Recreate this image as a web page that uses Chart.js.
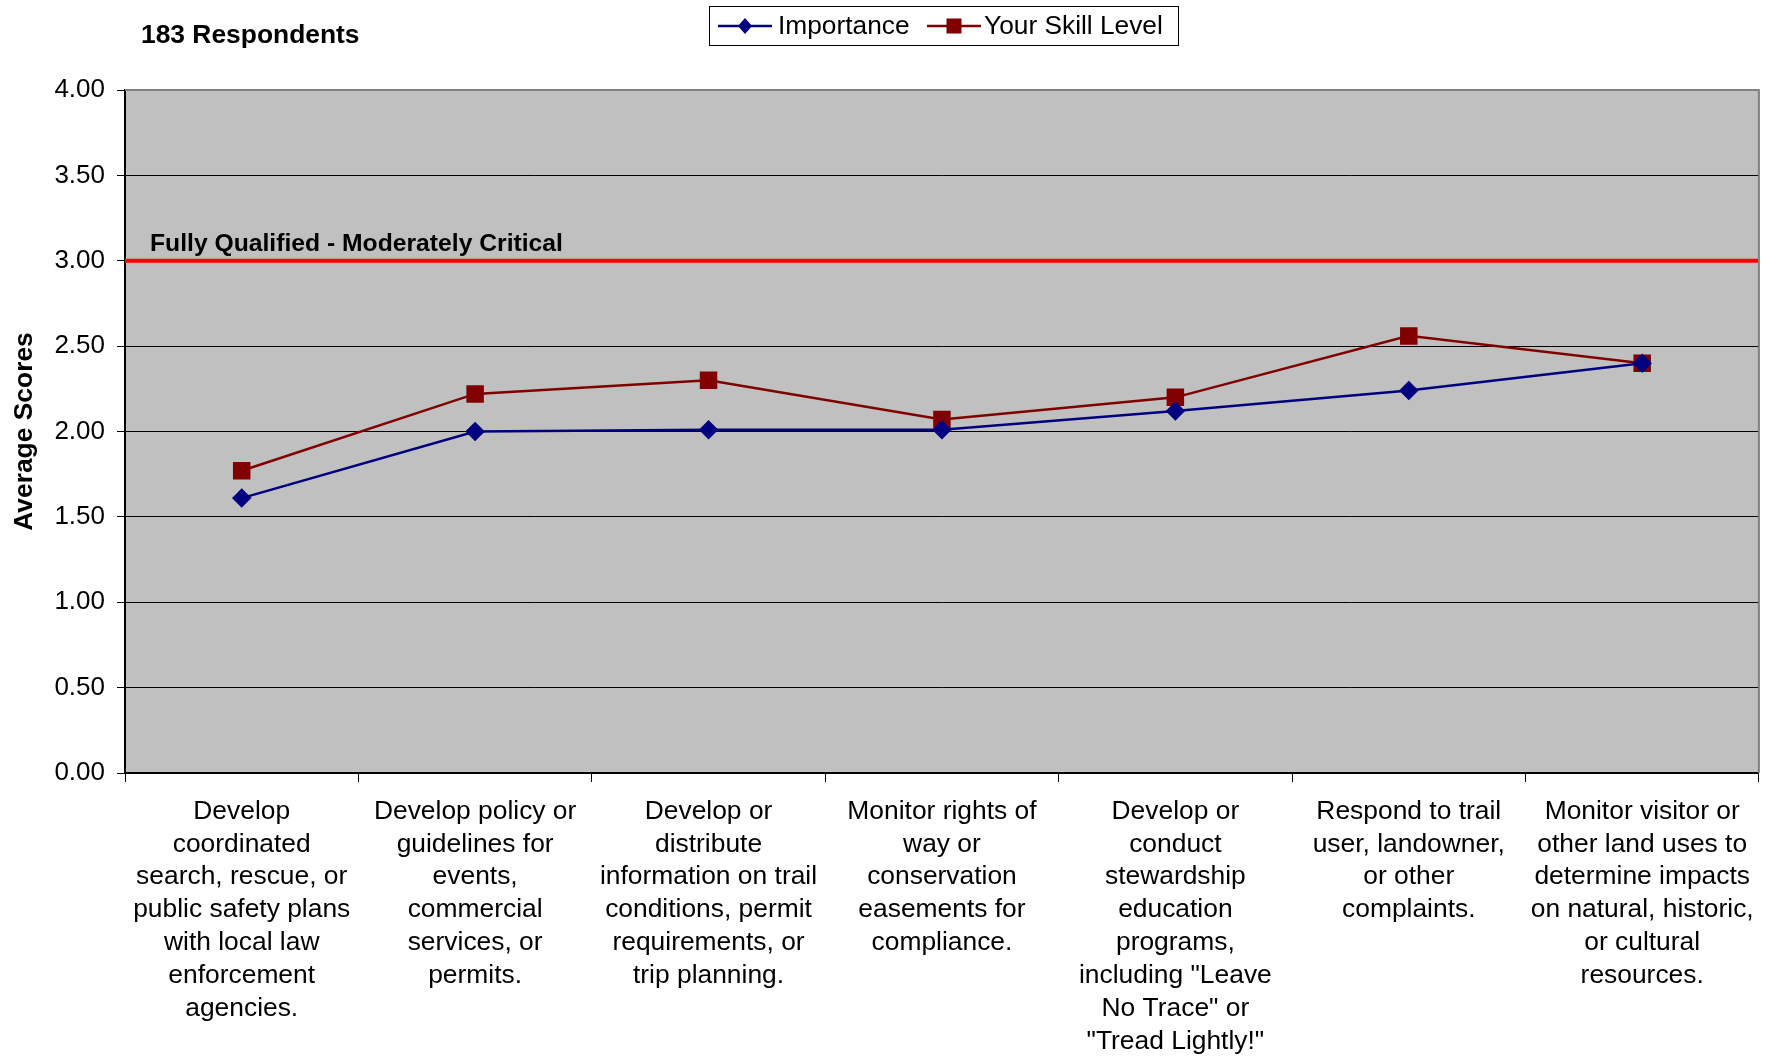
<!DOCTYPE html>
<html>
<head>
<meta charset="utf-8">
<script src="https://cdn.jsdelivr.net/npm/chart.js@4.4.0/dist/chart.umd.min.js"></script>
<style>
    html, body { margin: 0; padding: 0; background: #fff; }
    canvas { display: block; }
</style>
</head>
<body>
<canvas id="scoreChart" width="1772" height="1056"></canvas>
<script>
// Chart data
const categories = [
    ['Develop', 'coordinated', 'search, rescue, or', 'public safety plans', 'with local law', 'enforcement', 'agencies.'],
    ['Develop policy or', 'guidelines for', 'events,', 'commercial', 'services, or', 'permits.'],
    ['Develop or', 'distribute', 'information on trail', 'conditions, permit', 'requirements, or', 'trip planning.'],
    ['Monitor rights of', 'way or', 'conservation', 'easements for', 'compliance.'],
    ['Develop or', 'conduct', 'stewardship', 'education', 'programs,', 'including "Leave', 'No Trace" or', '"Tread Lightly!"'],
    ['Respond to trail', 'user, landowner,', 'or other', 'complaints.'],
    ['Monitor visitor or', 'other land uses to', 'determine impacts', 'on natural, historic,', 'or cultural', 'resources.']
];
const importance = [1.61, 2.00, 2.01, 2.01, 2.12, 2.24, 2.40];
const skillLevel = [1.77, 2.22, 2.30, 2.07, 2.20, 2.56, 2.40];
const seriesNames = ['Importance', 'Your Skill Level'];

const yMin = 0;
const yMax = 4;
const yStep = 0.5;
const thresholdValue = 3.0;
const thresholdLabel = 'Fully Qualified - Moderately Critical';
const respondentsLabel = '183 Respondents';
const yAxisTitle = 'Average Scores';

const FONT = 'Arial, "Liberation Sans", sans-serif';

// Background, threshold line, titles and the boxed legend
const decorations = {
    id: 'decorations',
    beforeDraw(chart) {
        const { ctx, chartArea: a } = chart;
        ctx.save();
        ctx.fillStyle = '#c0c0c0';
        ctx.fillRect(a.left, a.top, a.right - a.left, a.bottom - a.top);
        ctx.restore();
    },
    beforeDatasetsDraw(chart) {
        const { ctx, chartArea: a, scales } = chart;
        const y = scales.y.getPixelForValue(thresholdValue);
        ctx.save();
        ctx.strokeStyle = '#ff0000';
        ctx.lineWidth = 4;
        ctx.beginPath();
        ctx.moveTo(a.left, y);
        ctx.lineTo(a.right, y);
        ctx.stroke();
        ctx.fillStyle = '#000';
        ctx.font = 'bold 24.7px ' + FONT;
        ctx.textBaseline = 'alphabetic';
        ctx.fillText(thresholdLabel, a.left + 25, y - 10);
        ctx.restore();
    },
    afterDraw(chart) {
        const { ctx, chartArea: a } = chart;
        ctx.save();
        // top and right frame
        ctx.strokeStyle = '#808080';
        ctx.lineWidth = 2;
        ctx.beginPath();
        ctx.moveTo(a.left, a.top);
        ctx.lineTo(a.right, a.top);
        ctx.lineTo(a.right, a.bottom);
        ctx.stroke();

        // respondents note
        ctx.fillStyle = '#000';
        ctx.font = 'bold 26.4px ' + FONT;
        ctx.textBaseline = 'middle';
        ctx.fillText(respondentsLabel, 141, 36);

        // y axis title
        ctx.translate(25, (a.top + a.bottom) / 2);
        ctx.rotate(-Math.PI / 2);
        ctx.textAlign = 'center';
        ctx.font = 'bold 26.4px ' + FONT;
        ctx.fillText(yAxisTitle, 0, 0);
        ctx.restore();

        // legend
        ctx.save();
        ctx.strokeStyle = '#000';
        ctx.lineWidth = 1;
        ctx.strokeRect(709.5, 6.5, 469, 39);
        ctx.font = '26.3px ' + FONT;
        ctx.textBaseline = 'middle';
        ctx.fillStyle = '#000';
        const items = [{ x: 718, text: 778 }, { x: 927, text: 984 }];
        chart.data.datasets.forEach((ds, i) => {
            const it = items[i];
            const cy = 26;
            ctx.strokeStyle = ds.borderColor;
            ctx.lineWidth = 2.5;
            ctx.beginPath();
            ctx.moveTo(it.x, cy);
            ctx.lineTo(it.x + 54, cy);
            ctx.stroke();
            ctx.fillStyle = ds.backgroundColor;
            const cx = it.x + 27;
            ctx.beginPath();
            if (ds.pointStyle === 'rectRot') {
                ctx.moveTo(cx, cy - 8);
                ctx.lineTo(cx + 7, cy);
                ctx.lineTo(cx, cy + 8);
                ctx.lineTo(cx - 7, cy);
                ctx.closePath();
                ctx.fill();
            } else {
                ctx.fillRect(cx - 7.5, cy - 7.5, 15, 15);
            }
            ctx.fillStyle = '#000';
            ctx.fillText(ds.label, it.text, cy + 1);
        });
        ctx.restore();
    }
};

const ctx = document.getElementById('scoreChart').getContext('2d');
const scoreChart = new Chart(ctx, {
    type: 'line',
    data: {
        labels: categories,
        datasets: [
            {
                label: seriesNames[0],
                data: importance,
                borderColor: '#000080',
                backgroundColor: '#000080',
                borderWidth: 2.5,
                pointStyle: 'rectRot',
                pointRadius: 8,
                pointHoverRadius: 8,
                tension: 0
            },
            {
                label: seriesNames[1],
                data: skillLevel,
                borderColor: '#800000',
                backgroundColor: '#800000',
                borderWidth: 2.5,
                pointStyle: 'rect',
                pointRadius: 10.6,
                pointHoverRadius: 10.6,
                tension: 0
            }
        ]
    },
    options: {
        responsive: false,
        animation: false,
        devicePixelRatio: 1,
        layout: {
            padding: { top: 90, right: 10, left: 0, bottom: 0 }
        },
        plugins: {
            legend: { display: false },
            tooltip: { enabled: false }
        },
        scales: {
            x: {
                offset: true,
                grid: {
                    offset: true,
                    drawOnChartArea: false,
                    drawTicks: true,
                    tickLength: 9,
                    color: '#000'
                },
                border: { color: '#000', width: 2 },
                ticks: {
                    autoSkip: false,
                    maxRotation: 0,
                    minRotation: 0,
                    padding: 13,
                    color: '#000',
                    font: { family: FONT, size: 26.4, lineHeight: 1.245 }
                },
                afterFit(scale) {
                    scale.height = 283;
                    scale.paddingLeft = 0;
                    scale.paddingRight = 0;
                }
            },
            y: {
                min: yMin,
                max: yMax,
                grid: {
                    color: '#000',
                    lineWidth: 1,
                    tickLength: 8
                },
                border: { color: '#000', width: 2 },
                ticks: {
                    stepSize: yStep,
                    padding: 12,
                    color: '#000',
                    font: { family: FONT, size: 26 },
                    callback: v => v.toFixed(2)
                },
                afterFit(scale) { scale.width = 125; }
            }
        }
    },
    plugins: [decorations]
});
</script>
</body>
</html>
